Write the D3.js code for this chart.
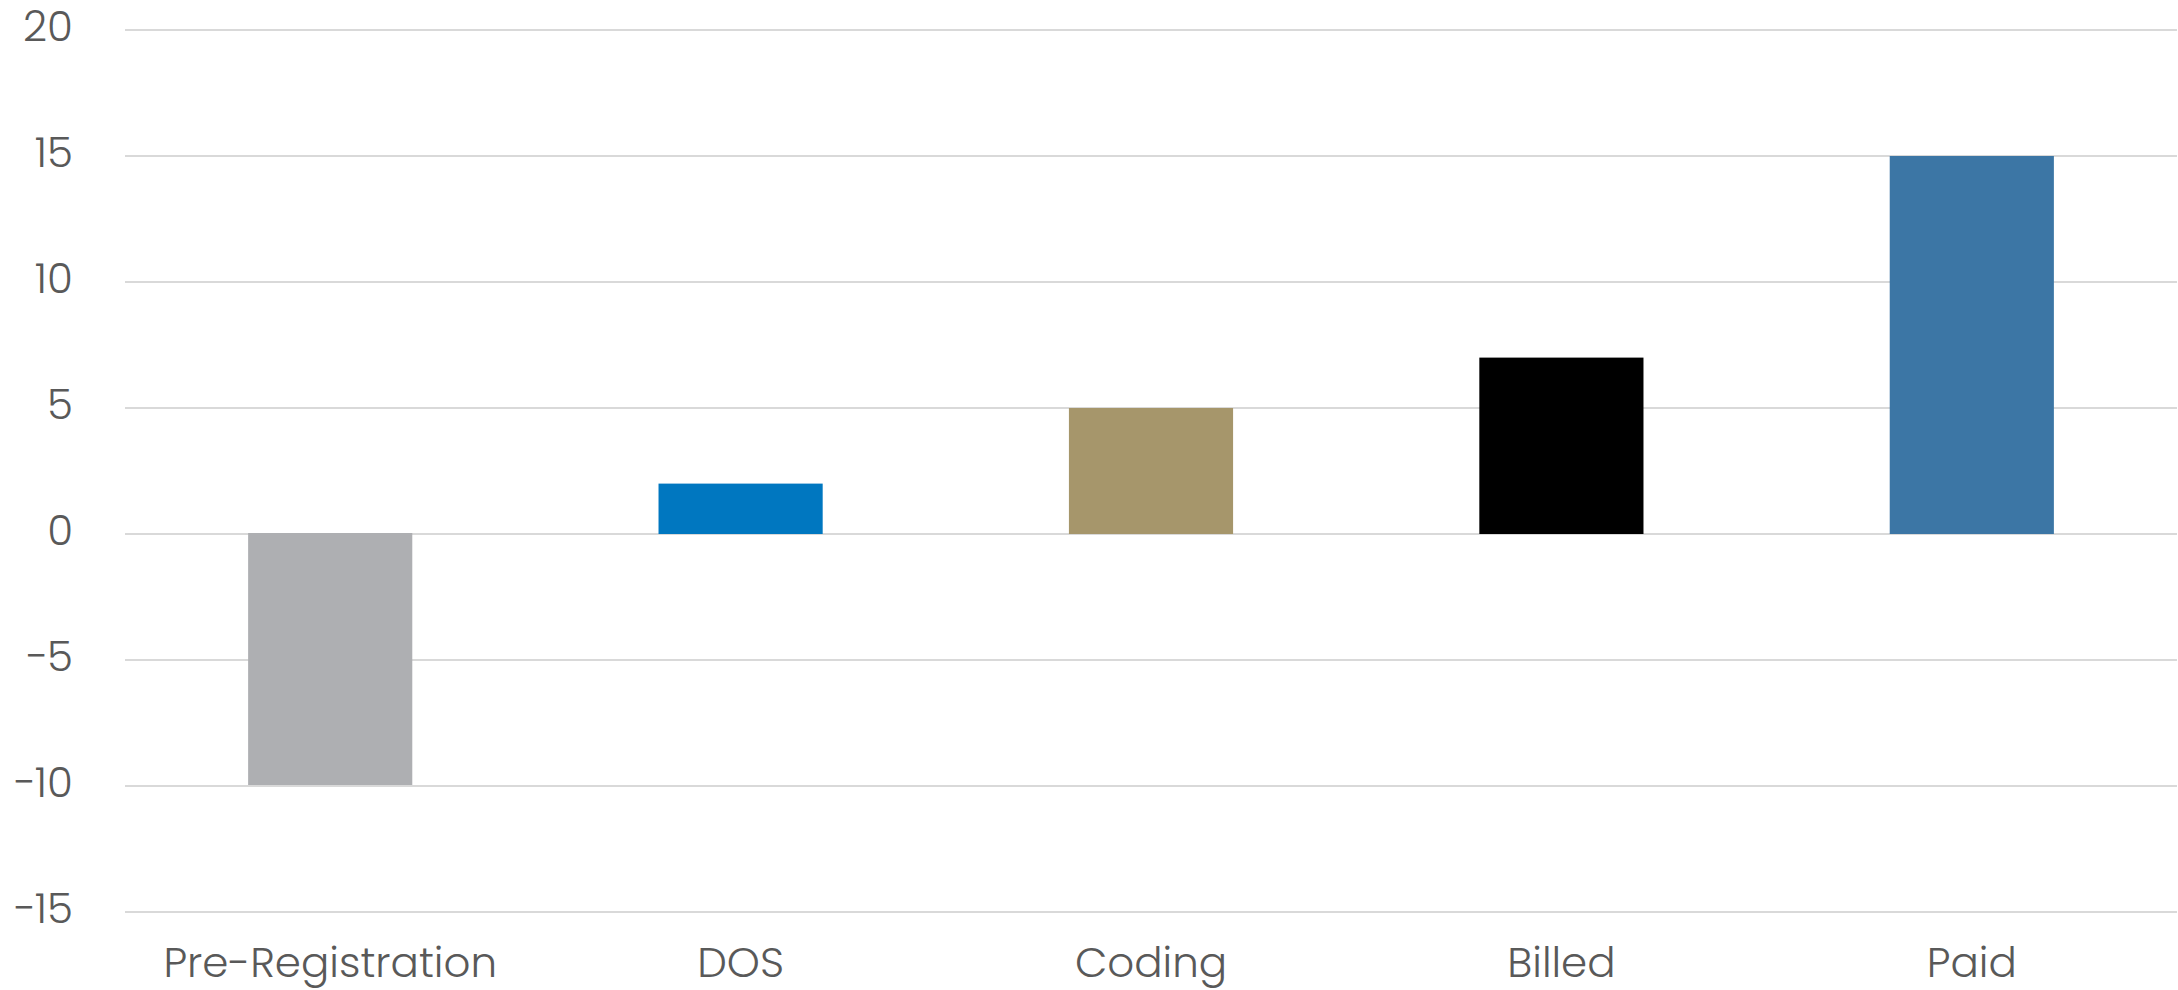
<!DOCTYPE html>
<html>
<head>
<meta charset="utf-8">
<script src="https://cdn.jsdelivr.net/npm/d3@7"></script>
<style>
  html, body { margin: 0; padding: 0; background: #fff; }
  svg { display: block; }
  text { font-family: "Poppins", "Lato", "Open Sans", sans-serif; font-weight: 300; fill: #595959; }
</style>
</head>
<body>
<svg id="chart" width="2178" height="990"></svg>
<script>
// Revenue-cycle stages and their values
const categories = ["Pre-Registration", "DOS", "Coding", "Billed", "Paid"];
const values = [-10, 2, 5, 7, 15];
const barColors = ["#AEAFB2", "#0077C0", "#A6966B", "#000000", "#3C76A5"];
const yTicks = [20, 15, 10, 5, 0, -5, -10, -15];

const svg = d3.select("#chart");
const plotLeft = 125, plotRight = 2177, plotTop = 30, plotBottom = 912;

const x = d3.scaleBand()
  .domain(categories)
  .range([plotLeft, plotRight])
  .paddingInner(0.6)
  .paddingOuter(0.3);

const y = d3.scaleLinear()
  .domain([-15, 20])
  .range([plotBottom, plotTop]);

// Horizontal gridlines
svg.append("g")
  .selectAll("line")
  .data(yTicks)
  .join("line")
  .attr("x1", plotLeft)
  .attr("x2", plotRight)
  .attr("y1", d => y(d))
  .attr("y2", d => y(d))
  .attr("stroke", "#d9d9d9")
  .attr("stroke-width", 2);

// Y tick labels
const yAxis = d3.axisLeft(y).tickValues(yTicks).tickSize(0).tickPadding(0)
  .tickFormat(d => d < 0 ? "\u2212" + Math.abs(d) : String(d));
const gy = svg.append("g")
  .attr("transform", `translate(73,-3)`)
  .call(yAxis);
gy.select(".domain").remove();
gy.selectAll("text")
  .attr("font-size", 42)
  .attr("fill", "#595959")
  .style("font-family", null);
gy.attr("font-family", null).attr("font-size", null);

// Bars
svg.append("g")
  .selectAll("rect")
  .data(categories)
  .join("rect")
  .attr("x", d => x(d))
  .attr("width", x.bandwidth())
  .attr("y", (d, i) => Math.min(y(values[i]), y(0) - 1))
  .attr("height", (d, i) => Math.abs(y(values[i]) - y(0)))
  .attr("fill", (d, i) => barColors[i]);

// X category labels
const xAxis = d3.axisBottom(x).tickSize(0).tickPadding(0);
const gx = svg.append("g")
  .attr("transform", `translate(0,${plotBottom})`)
  .call(xAxis);
gx.select(".domain").remove();
gx.attr("font-family", null).attr("font-size", null);
gx.selectAll("text")
  .attr("y", 65)
  .attr("dy", null)
  .attr("font-size", 42)
  .attr("fill", "#595959");
</script>
</body>
</html>
